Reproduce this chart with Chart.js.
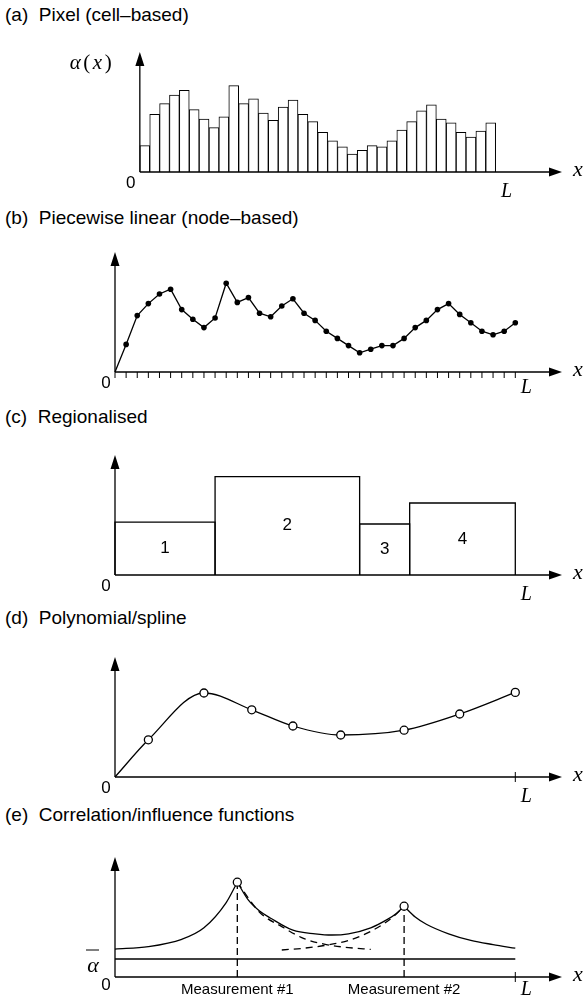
<!DOCTYPE html>
<html lang="en">
<head>
  <meta charset="UTF-8">
  <title>Spatial parameterisation schemes</title>
  <script src="https://cdn.jsdelivr.net/npm/chart.js"></script>
  <style>
    body { margin: 0; background: #fff; }
    #page { position: relative; width: 585px; height: 1006px; overflow: hidden; }
    .title { position: absolute; left: 5px; font: 19px "Liberation Sans", Arial, sans-serif; line-height: 22px; white-space: pre; color: #000; }
    canvas { position: absolute; left: 0; }
  </style>
</head>
<body>
  <div id="page">
    <div class="title" style="top:4px">(a)  Pixel (cell–based)</div>
    <div class="title" style="top:207px">(b)  Piecewise linear (node–based)</div>
    <div class="title" style="top:406px">(c)  Regionalised</div>
    <div class="title" style="top:607px">(d)  Polynomial/spline</div>
    <div class="title" style="top:804px">(e)  Correlation/influence functions</div>
    <canvas id="chartA" width="585" height="200" style="top:0px"></canvas>
    <canvas id="chartB" width="585" height="200" style="top:200px"></canvas>
    <canvas id="chartC" width="585" height="200" style="top:403px"></canvas>
    <canvas id="chartD" width="585" height="200" style="top:605px"></canvas>
    <canvas id="chartE" width="585" height="200" style="top:805px"></canvas>
  </div>

  <script>
    // domain length L = 36 cells, y in arbitrary units (axis top = 100)
    const lengthL = 36;

    // (a) pixel values, one per cell
    const cellValues = [22, 48, 57, 64, 68, 52, 44, 37, 46, 72, 57, 61, 49, 43, 54, 60, 48, 42,
                        33, 26, 21, 15, 18, 22, 21, 26, 35, 42, 51, 56, 44, 41, 33, 29, 34, 41];

    // (b) node values at x = 0..36
    const nodeValues = [0, 23, 47, 57, 65, 69, 52, 44, 37, 45, 74, 58, 62, 49, 46, 55, 61, 49, 43,
                        34, 28, 22, 16, 19, 22, 22, 28, 37, 43, 52, 57, 48, 41, 34, 31, 34, 41];

    // (c) regions
    const regionEdges = [0, 9, 22, 26.5, 36];
    const regionValues = [44, 82, 42.5, 60];
    const regionNames = ['1', '2', '3', '4'];

    // (d) spline control points
    const splineX = [0, 3, 8, 12.3, 16, 20.3, 26, 31, 36];
    const splineY = [0, 31, 70, 56, 42.5, 35, 39, 52.5, 70.5];

    // (e) correlation / influence functions
    const measureX = [11, 26];
    const measureY = [79, 59];
    const measureNames = ['Measurement #1', 'Measurement #2'];
    const alphaBar = 15;
    const fieldX = [0, 3, 6, 8, 10, 11, 12, 13, 14, 16, 18, 19.5, 21, 23, 24.5, 25.3, 26, 27, 28, 30, 32, 34, 36];
    const fieldY = [23.3, 25.3, 31.4, 41, 62, 79, 64, 55, 49, 39, 36, 35, 36, 41, 48, 53, 59, 50, 44, 36, 30.5, 27, 24];
    const influence1X = [11, 13, 15, 17, 19, 21, 23];
    const influence1Y = [79, 54, 42, 32, 27, 24.5, 23];
    const influence2X = [15, 17, 19, 21, 23, 25, 26];
    const influence2Y = [22.5, 24, 26.5, 30.5, 38, 50, 59];

    const sans = '"Liberation Sans", Arial, sans-serif';
    const serif = '"Liberation Serif", "DejaVu Serif", serif';

    const figureAxes = {
      id: 'figureAxes',
      afterDraw(chart, args, o) {
        const { ctx, chartArea } = chart;
        const xs = chart.scales.x, ys = chart.scales.y;
        const x0 = xs.getPixelForValue(0), y0 = ys.getPixelForValue(0);
        const top = chartArea.top, right = chartArea.right;
        ctx.save();
        ctx.strokeStyle = '#000';
        ctx.fillStyle = '#000';
        ctx.lineWidth = 1.3;
        ctx.beginPath();
        ctx.moveTo(x0, y0); ctx.lineTo(x0, top + 10);
        ctx.moveTo(x0, y0); ctx.lineTo(right - 10, y0);
        ctx.stroke();
        ctx.beginPath();
        ctx.moveTo(x0, top); ctx.lineTo(x0 - 4.5, top + 14); ctx.lineTo(x0 + 4.5, top + 14); ctx.closePath();
        ctx.moveTo(right, y0); ctx.lineTo(right - 13, y0 - 4.5); ctx.lineTo(right - 13, y0 + 4.5); ctx.closePath();
        ctx.fill();

        ctx.lineWidth = 1;
        if (o.ticks) {
          ctx.beginPath();
          o.ticks.forEach(v => {
            const px = xs.getPixelForValue(v);
            ctx.moveTo(px, y0); ctx.lineTo(px, y0 + 6);
          });
          ctx.stroke();
        }
        const xL = xs.getPixelForValue(lengthL);
        if (o.lTick) {
          ctx.beginPath(); ctx.moveTo(xL, y0 - 5); ctx.lineTo(xL, y0 + 5); ctx.stroke();
        }

        ctx.textAlign = 'center';
        ctx.textBaseline = 'middle';
        ctx.font = '17px ' + sans;
        ctx.fillText('0', x0 - 9, y0 + o.zeroDy);
        ctx.font = 'italic 22px ' + serif;
        ctx.fillText('x', right + 16, y0 - 2);
        ctx.font = 'italic 20px ' + serif;
        ctx.fillText('L', xL + 11, y0 + o.lDy);

        if (o.yLabel) {
          // α(x) with upright brackets
          const parts = [['α', 'italic 21px '], ['(', '21px '], ['x', 'italic 21px '], [')', '21px ']];
          ctx.textAlign = 'left';
          let px = x0 - 70;
          parts.forEach(([t, f]) => {
            ctx.font = f + serif;
            ctx.fillText(t, px, top + 11);
            px += ctx.measureText(t).width + 2.5;
          });
        }
        if (o.alphaBar !== undefined) {
          const py = ys.getPixelForValue(o.alphaBar);
          ctx.textAlign = 'center';
          ctx.textBaseline = 'alphabetic';
          ctx.font = 'italic 22px ' + serif;
          ctx.fillText('α', x0 - 22, py + 13);
          ctx.beginPath(); ctx.moveTo(x0 - 29, py - 9); ctx.lineTo(x0 - 16, py - 9); ctx.stroke();
        }
        (o.notes || []).forEach(n => {
          ctx.textAlign = 'center';
          ctx.textBaseline = 'middle';
          ctx.font = n.font;
          const py = n.y === null ? y0 + n.dy : ys.getPixelForValue(n.y);
          ctx.fillText(n.text, xs.getPixelForValue(n.x), py);
        });
        ctx.restore();
      }
    };

    function baseOptions(axesOpts) {
      return {
        responsive: false,
        animation: false,
        devicePixelRatio: 1,
        layout: { padding: { left: 115, right: 23, top: 52, bottom: 28 } },
        events: [],
        scales: {
          x: { type: 'linear', min: 0, max: 40.2, display: false },
          y: { min: 0, max: 100, display: false }
        },
        plugins: { legend: { display: false }, tooltip: { enabled: false }, figureAxes: axesOpts }
      };
    }

    function lineSet(xsArr, ysArr, extra) {
      return Object.assign({
        data: xsArr.map((x, i) => ({ x: x, y: ysArr[i] })),
        borderColor: '#000', borderWidth: 1.3, pointRadius: 0, tension: 0, clip: false, fill: false
      }, extra || {});
    }

    // (a)
    new Chart(document.getElementById('chartA'), {
      type: 'bar',
      data: {
        datasets: [{
          data: cellValues.map((v, i) => ({ x: i + 0.5, y: v })),
          backgroundColor: '#fff', borderColor: '#000', borderWidth: 1,
          barPercentage: 1, categoryPercentage: 1, clip: false
        }]
      },
      options: baseOptions({ zeroDy: 11, lDy: 20, yLabel: true }),
      plugins: [figureAxes]
    });

    // (b)
    const nodeX = nodeValues.map((v, i) => i);
    new Chart(document.getElementById('chartB'), {
      type: 'line',
      data: {
        datasets: [lineSet(nodeX, nodeValues, {
          pointRadius: nodeValues.map((v, i) => i === 0 ? 0 : 2.8),
          pointBackgroundColor: '#000', pointBorderWidth: 0
        })]
      },
      options: baseOptions({ zeroDy: 11, lDy: 16, ticks: nodeX }),
      plugins: [figureAxes]
    });

    // (c)
    const regionSets = regionValues.map((h, i) => {
      const a = regionEdges[i], b = regionEdges[i + 1];
      return lineSet([a, a, b, b], [0, h, h, 0]);
    });
    new Chart(document.getElementById('chartC'), {
      type: 'line',
      data: { datasets: regionSets },
      options: baseOptions({
        zeroDy: 11, lDy: 20,
        notes: regionNames.map((t, i) => ({
          text: t, font: '17px ' + sans,
          x: (regionEdges[i] + regionEdges[i + 1]) / 2, y: regionValues[i] / 2
        }))
      }),
      plugins: [figureAxes]
    });

    // (d)
    new Chart(document.getElementById('chartD'), {
      type: 'line',
      data: {
        datasets: [lineSet(splineX, splineY, {
          cubicInterpolationMode: 'monotone',
          pointRadius: splineX.map((v, i) => i === 0 ? 0 : 4),
          pointBackgroundColor: '#fff', pointBorderColor: '#000', pointBorderWidth: 1.3
        })]
      },
      options: baseOptions({ zeroDy: 11, lDy: 20, lTick: true }),
      plugins: [figureAxes]
    });

    // (e)
    const cuts = [0, ...measureX, lengthL];
    const fieldSets = cuts.slice(0, -1).map((c, k) => {
      const idx = fieldX.map((x, i) => i).filter(i => fieldX[i] >= c && fieldX[i] <= cuts[k + 1]);
      return lineSet(idx.map(i => fieldX[i]), idx.map(i => fieldY[i]), { cubicInterpolationMode: 'monotone' });
    });
    const dashed = { borderDash: [7, 5], borderWidth: 1.3, cubicInterpolationMode: 'monotone' };
    new Chart(document.getElementById('chartE'), {
      type: 'line',
      data: {
        datasets: [
          lineSet(measureX, measureY, {
            showLine: false, pointRadius: 4,
            pointBackgroundColor: '#fff', pointBorderColor: '#000', pointBorderWidth: 1.3
          }),
          ...fieldSets,
          lineSet(influence1X, influence1Y, dashed),
          lineSet(influence2X, influence2Y, dashed),
          ...measureX.map((m, i) => lineSet([m, m], [0, measureY[i]], { borderDash: [7, 4] })),
          lineSet([0, lengthL], [alphaBar, alphaBar])
        ]
      },
      options: baseOptions({
        zeroDy: 8, lDy: 13, lTick: true, alphaBar: alphaBar,
        notes: measureNames.map((t, i) => ({ text: t, font: '15px ' + sans, x: measureX[i], y: null, dy: 13 }))
      }),
      plugins: [figureAxes]
    });
  </script>
</body>
</html>
